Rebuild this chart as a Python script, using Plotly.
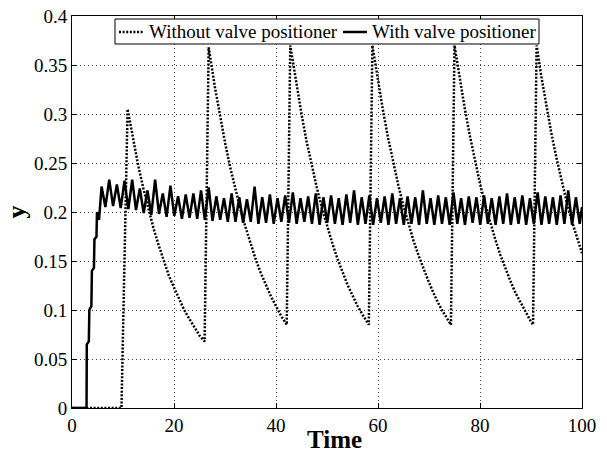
import plotly.graph_objects as go

# Dotted series: "Without valve positioner"
without_t = [0, 9.7, 10.9, 12, 13, 14, 15, 16, 17, 18, 19, 20, 21, 22, 23, 24, 25, 26.0,
             26.8, 28, 29, 30, 31, 32, 33, 34, 35, 36, 37, 38, 39, 40, 41, 42, 42.1,
             42.8, 44, 45, 46, 47, 48, 49, 50, 51, 52, 53, 54, 55, 56, 57, 58, 58.2,
             58.9, 60, 61, 62, 63, 64, 65, 66, 67, 68, 69, 70, 71, 72, 73, 74, 74.3,
             75.0, 76, 77, 78, 79, 80, 81, 82, 83, 84, 85, 86, 87, 88, 89, 90, 90.4,
             91.1, 92, 93, 94, 95, 96, 97, 98, 99, 100]
without_y = [0, 0, 0.305, 0.273, 0.247, 0.224, 0.202, 0.183, 0.166, 0.150, 0.135, 0.123, 0.111, 0.100, 0.091, 0.082, 0.074, 0.068,
             0.368, 0.328, 0.298, 0.271, 0.246, 0.224, 0.203, 0.185, 0.168, 0.152, 0.138, 0.126, 0.114, 0.104, 0.094, 0.086, 0.085,
             0.370, 0.330, 0.300, 0.272, 0.247, 0.225, 0.204, 0.186, 0.169, 0.153, 0.139, 0.126, 0.115, 0.104, 0.095, 0.086, 0.085,
             0.370, 0.333, 0.303, 0.275, 0.250, 0.227, 0.206, 0.187, 0.170, 0.155, 0.141, 0.128, 0.116, 0.105, 0.096, 0.087, 0.085,
             0.370, 0.336, 0.306, 0.278, 0.252, 0.229, 0.208, 0.189, 0.172, 0.156, 0.142, 0.129, 0.117, 0.107, 0.097, 0.088, 0.085,
             0.370, 0.339, 0.308, 0.280, 0.255, 0.231, 0.210, 0.191, 0.174, 0.158]

# Solid series: "With valve positioner"
with_t = [0, 2.85, 2.9, 3.3, 3.4, 3.8, 3.9, 4.3, 4.4, 4.8, 4.9, 5.3,
          5.8, 6.55, 7.3, 8.05, 8.8, 9.55, 10.3, 11.05, 11.8, 12.55,
          13.3, 14.05, 14.8, 15.55, 16.3, 17.05, 17.8, 18.55, 19.3, 20.05,
          20.8, 21.55, 22.3, 23.05, 23.8, 24.55, 25.3, 26.05, 26.8, 27.55,
          28.3, 29.05, 29.8, 30.55, 31.3, 32.05, 32.8, 33.55, 34.3, 35.05,
          35.8, 36.55, 37.3, 38.05, 38.8, 39.55, 40.3, 41.05, 41.8, 42.55,
          43.3, 44.05, 44.8, 45.55, 46.3, 47.05, 47.8, 48.55, 49.3, 50.05,
          50.8, 51.55, 52.3, 53.05, 53.8, 54.55, 55.3, 56.05, 56.8, 57.55,
          58.3, 59.05, 59.8, 60.55, 61.3, 62.05, 62.8, 63.55, 64.3, 65.05,
          65.8, 66.55, 67.3, 68.05, 68.8, 69.55, 70.3, 71.05, 71.8, 72.55,
          73.3, 74.05, 74.8, 75.55, 76.3, 77.05, 77.8, 78.55, 79.3, 80.05,
          80.8, 81.55, 82.3, 83.05, 83.8, 84.55, 85.3, 86.05, 86.8, 87.55,
          88.3, 89.05, 89.8, 90.55, 91.3, 92.05, 92.8, 93.55, 94.3, 95.05,
          95.8, 96.55, 97.3, 98.05, 98.8, 99.55, 100]
with_y = [0, 0, 0.065, 0.068, 0.100, 0.104, 0.140, 0.143, 0.172, 0.175, 0.200, 0.192,
          0.226, 0.205, 0.233, 0.206, 0.228, 0.204, 0.232, 0.203, 0.233, 0.202,
          0.224, 0.199, 0.222, 0.197, 0.233, 0.198, 0.219, 0.195, 0.227, 0.196,
          0.216, 0.193, 0.218, 0.194, 0.219, 0.193, 0.222, 0.192, 0.225, 0.191,
          0.216, 0.192, 0.214, 0.190, 0.219, 0.190, 0.215, 0.189, 0.213, 0.190,
          0.226, 0.188, 0.215, 0.189, 0.218, 0.188, 0.214, 0.190, 0.217, 0.189,
          0.220, 0.188, 0.214, 0.190, 0.216, 0.188, 0.219, 0.187, 0.215, 0.189,
          0.217, 0.188, 0.214, 0.187, 0.218, 0.189, 0.222, 0.187, 0.215, 0.188,
          0.217, 0.187, 0.214, 0.189, 0.216, 0.187, 0.219, 0.188, 0.214, 0.187,
          0.216, 0.188, 0.215, 0.187, 0.222, 0.188, 0.214, 0.187, 0.217, 0.188,
          0.215, 0.187, 0.220, 0.188, 0.214, 0.187, 0.216, 0.189, 0.215, 0.187,
          0.217, 0.188, 0.214, 0.187, 0.216, 0.188, 0.219, 0.187, 0.215, 0.188,
          0.217, 0.187, 0.214, 0.188, 0.220, 0.187, 0.216, 0.188, 0.215, 0.187,
          0.217, 0.188, 0.222, 0.187, 0.215, 0.188, 0.205]

series_names = ["Without valve positioner", "With valve positioner"]

x_ticks = [0, 20, 40, 60, 80, 100]
y_ticks = [0, 0.05, 0.1, 0.15, 0.2, 0.25, 0.3, 0.35, 0.4]
y_tick_labels = ["0", "0.05", "0.1", "0.15", "0.2", "0.25", "0.3", "0.35", "0.4"]

FONT = "Liberation Serif"
DOT = "2px,1.6px"

fig = go.Figure()
fig.add_trace(go.Scatter(x=without_t, y=without_y, mode="lines",
                         name=series_names[0], showlegend=False,
                         line=dict(color="black", width=2.5, dash=DOT)))
fig.add_trace(go.Scatter(x=with_t, y=with_y, mode="lines",
                         name=series_names[1], showlegend=False,
                         line=dict(color="black", width=2.5)))

axis_common = dict(showline=True, linecolor="black", linewidth=1, mirror="ticks",
                   ticks="inside", ticklen=5, tickcolor="black", automargin=False,
                   showgrid=True, gridcolor="#444", gridwidth=1, griddash="1px,3px",
                   zeroline=False, tickfont=dict(family=FONT, size=19, color="black"))

fig.update_xaxes(range=[0, 100], tickvals=x_ticks, **axis_common)
fig.update_yaxes(range=[0, 0.4], tickvals=y_ticks, ticktext=y_tick_labels,
                 title=dict(text="<b>y</b>", font=dict(family=FONT, size=26, color="black"), standoff=0),
                 **axis_common)

# x-axis title
fig.add_annotation(xref="paper", yref="paper", x=0.515, y=-0.0816, text="<b>Time</b>",
                   showarrow=False, xanchor="center", yanchor="middle",
                   font=dict(family=FONT, size=25, color="black"))

# Legend box drawn in paper coordinates (plot area: 0..1)
ly = 0.9592
fig.add_shape(type="rect", xref="paper", yref="paper", x0=0.0843, x1=0.9157, y0=0.9286, y1=0.9923,
              line=dict(color="black", width=1), fillcolor="white", layer="above")
fig.add_shape(type="line", xref="paper", yref="paper", x0=0.0922, x1=0.1392, y0=ly, y1=ly,
              line=dict(color="black", width=2.5, dash=DOT), layer="above")
fig.add_shape(type="line", xref="paper", yref="paper", x0=0.5314, x1=0.5784, y0=ly, y1=ly,
              line=dict(color="black", width=2.5), layer="above")
fig.add_annotation(xref="paper", yref="paper", x=0.1471, y=ly, text=series_names[0],
                   showarrow=False, xanchor="left", yanchor="middle",
                   font=dict(family=FONT, size=19, color="black"))
fig.add_annotation(xref="paper", yref="paper", x=0.5843, y=ly, text=series_names[1],
                   showarrow=False, xanchor="left", yanchor="middle",
                   font=dict(family=FONT, size=19, color="black"))

fig.update_layout(
    width=607, height=454,
    margin=dict(l=72, r=25, t=16, b=46),
    paper_bgcolor="white", plot_bgcolor="white",
    showlegend=False,
)

fig.write_html("out.html", config={"displayModeBar": False},
               post_script="document.body.style.margin='0px';document.body.style.overflow='hidden';")
